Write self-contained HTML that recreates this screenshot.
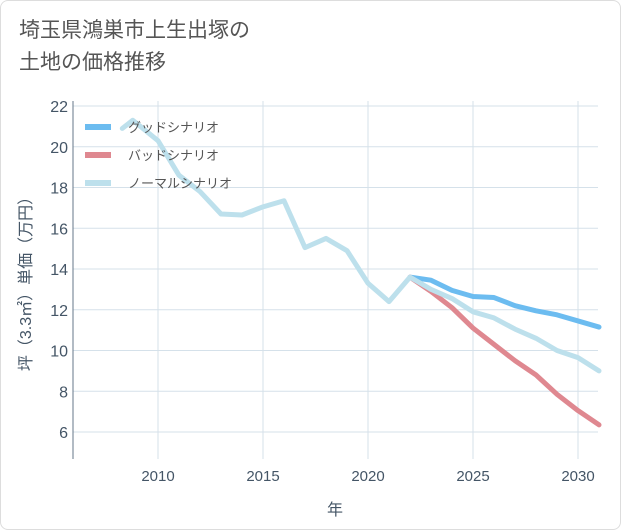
<!DOCTYPE html>
<html><head><meta charset="utf-8"><style>
body{margin:0;background:#fff;}
#wrap{position:relative;width:621px;height:530px;background:#fff;border-radius:8px;box-sizing:border-box;border:1px solid #ddd;overflow:hidden;}
.t{font-family:"Liberation Sans","Noto Sans CJK JP",sans-serif;}
</style></head><body>
<div id="wrap">
<div class="t" style="position:absolute;left:18px;top:14px;font-size:21px;line-height:32px;color:#555;">埼玉県鴻巣市上生出塚の<br>土地の価格推移</div>
<svg id="svg" width="621" height="530" style="position:absolute;left:0;top:0"></svg>
</div>
<script>
const normalYears=[2008.3,2008.8,2010,2011,2012,2013,2014,2015,2016,2017,2018,2019,2020,2021,2022,2023,2024,2025,2026,2027,2028,2029,2030,2031];
const normalValues=[20.9,21.3,20.3,18.6,17.8,16.7,16.65,17.05,17.35,15.05,15.5,14.9,13.3,12.4,13.6,13.0,12.55,11.9,11.6,11.05,10.6,10.0,9.65,9.0];
const futureYears=[2022,2023,2024,2025,2026,2027,2028,2029,2030,2031];
const goodValues=[13.6,13.45,12.95,12.65,12.6,12.2,11.95,11.75,11.45,11.15];
const badValues=[13.6,12.9,12.1,11.1,10.3,9.5,8.8,7.85,7.05,6.35];
const xTicks=[2010,2015,2020,2025,2030];
const yTicks=[6,8,10,12,14,16,18,20,22];
const L=72,R=597,T=100,B=458;
const x=v=>157+(v-2010)*21;
const y=v=>105+(22-v)*20.375;
const svg=document.getElementById('svg');
const NS='http://www.w3.org/2000/svg';
function mk(tag,a){const e=document.createElementNS(NS,tag);for(const k in a)e.setAttribute(k,a[k]);svg.appendChild(e);return e;}
let bg=mk('rect',{x:L,y:T,width:R-L,height:B-T,fill:'#fff',stroke:'none'});


xTicks.forEach(v=>{
 let g=mk('line',{x1:x(v),x2:x(v),y1:T,y2:B,stroke:'#d5e1ea','stroke-width':1});
 
 
 let t=mk('text',{x:x(v),y:B+22,'text-anchor':'middle','font-size':15,fill:'#445566',class:'t'});
 t.textContent=v;
 
 
});
yTicks.forEach(v=>{
 let g=mk('line',{x1:L,x2:R,y1:y(v),y2:y(v),stroke:'#d5e1ea','stroke-width':1});
 
 
 let t=mk('text',{x:L-5,y:y(v)+6,'text-anchor':'end','font-size':16,fill:'#445566',class:'t'});
 t.textContent=v;
 
 
});
let ax=mk('line',{x1:L,x2:L,y1:T,y2:B,stroke:'#667788','stroke-width':1});


function line(xs,vs,color,name){
 let p=mk('polyline',{points:xs.map((v,i)=>x(v)+','+y(vs[i])).join(' '),fill:'none',stroke:color,'stroke-width':5,'stroke-linejoin':'round','stroke-linecap':'round'});
 
 
}
line(futureYears,goodValues,'#6cbcf0','good-scenario-line');
line(futureYears,badValues,'#df8890','bad-scenario-line');
line(normalYears,normalValues,'#bde0ec','normal-scenario-line');
const legendLabels=['グッドシナリオ','バッドシナリオ','ノーマルシナリオ'];
const legendColors=['#6cbcf0','#df8890','#bde0ec'];
legendLabels.forEach((s,i)=>{
 let yy=126+i*28;
 let l=mk('line',{x1:84,x2:110,y1:yy,y2:yy,stroke:legendColors[i],'stroke-width':6});
 
 
 let t=mk('text',{x:127,y:yy+5,'font-size':13,fill:'#555',class:'t'});
 t.textContent=s;
 
 
});
let xt=mk('text',{x:334,y:514,'text-anchor':'middle','font-size':16,fill:'#445566',class:'t'});
xt.textContent='年';


let yt=mk('text',{x:0,y:0,'text-anchor':'middle','font-size':16,fill:'#445566',class:'t',transform:'translate(30,279) rotate(-90)'});
yt.textContent='坪（3.3㎡）単価（万円）';


</script>
</body></html>
